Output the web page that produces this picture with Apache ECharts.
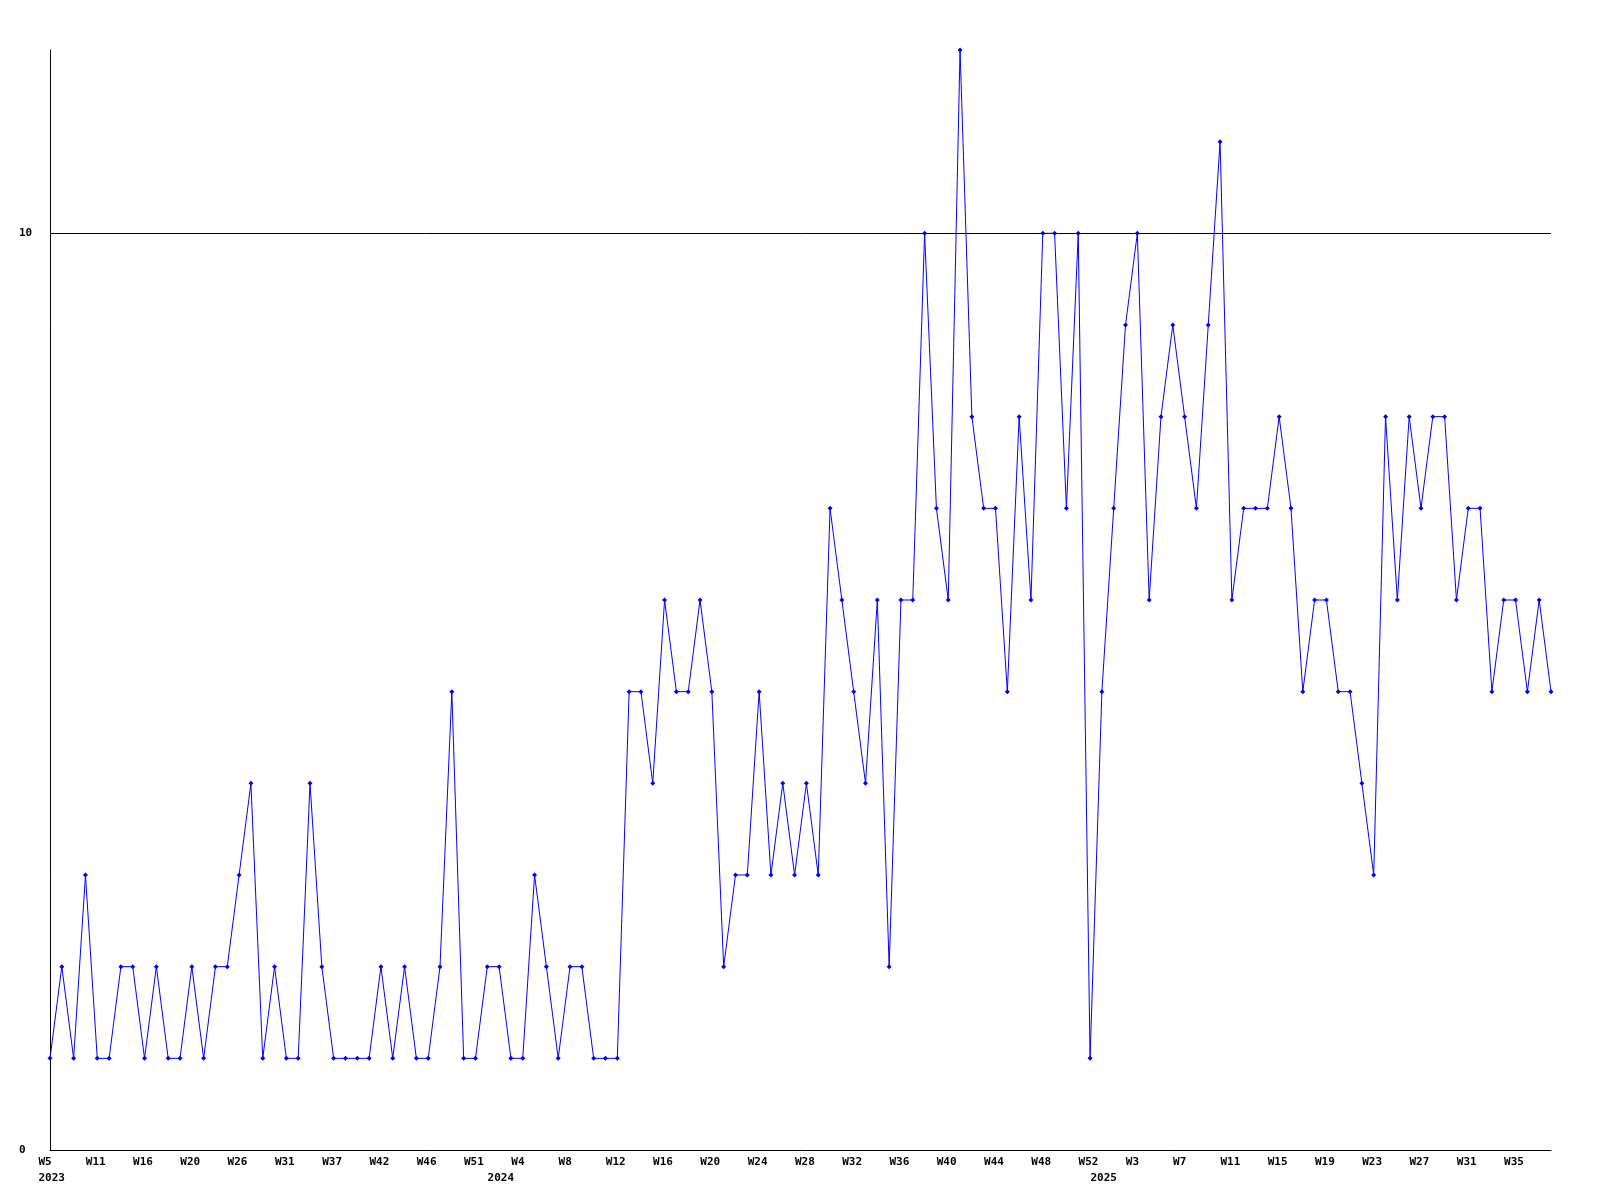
<!DOCTYPE html>
<html>
<head>
<meta charset="utf-8">
<script src="https://cdn.jsdelivr.net/npm/echarts@6/dist/echarts.min.js"></script>
<style>
html,body{margin:0;padding:0;background:#fff;}
#chart{width:1600px;height:1200px;}
</style>
</head>
<body>
<div id="chart"></div>
<script>
// Week categories (every 4th is labelled)
const weeks = [
  'W5','W6','W7','W9','W11','W12','W13','W15','W16','W17','W18','W19','W20','W22','W23','W25',
  'W26','W27','W29','W30','W31','W33','W34','W36','W37','W38','W40','W41','W42','W43','W44','W45',
  'W46','W47','W49','W50','W51','W52',
  'W1','W2','W4','W5','W6','W7','W8','W9','W10','W11','W12','W13','W14','W15','W16','W17','W18','W19',
  'W20','W21','W22','W23','W24','W25','W26','W27','W28','W29','W30','W31','W32','W33','W34','W35',
  'W36','W37','W38','W39','W40','W41','W42','W43','W44','W45','W46','W47','W48','W49','W50','W51','W52',
  'W0','W1','W2','W3','W4','W5','W6','W7','W8','W9','W10','W11','W12','W13','W14','W15','W16','W17',
  'W18','W19','W20','W21','W22','W23','W24','W25','W26','W27','W28','W29','W30','W31','W32','W33',
  'W34','W35','W36','W37','W38'
];
// Values per week
const values = [
  1,2,1,3,1,1,2,2,1,2,1,1,2,1,2,2,
  3,4,1,2,1,1,4,2,1,1,1,1,2,1,2,1,
  1,2,5,1,1,2,2,1,1,3,2,1,2,2,1,1,
  1,5,5,4,6,5,5,6,5,2,3,3,5,3,4,3,
  4,3,7,6,5,4,6,2,6,6,10,7,6,12,8,7,
  7,5,8,6,10,10,7,10,1,5,7,9,10,6,8,9,
  8,7,9,11,6,7,7,7,8,7,5,6,6,5,5,4,
  3,8,6,8,7,8,8,6,7,7,5,6,6,5,6,5
];
// Year labels: index of first week of each year
const yearStarts = [0, 38, 89];
const yearNames = ['2023', '2024', '2025'];
// Y tick labels
const yTicks = [0, 10];

const font = {fontFamily: 'DejaVu Sans Mono', fontWeight: 'bold', fontSize: 11, color: '#000'};

const chart = echarts.init(document.getElementById('chart'), null, {renderer: 'canvas'});
chart.setOption({
  animation: false,
  backgroundColor: '#ffffff',
  grid: [
    {left: 50, right: 49, top: 50, bottom: 50},
    {left: 38.5, right: 60.5, top: 50, bottom: 50}
  ],
  xAxis: [
    {
      gridIndex: 0, type: 'category', data: weeks, boundaryGap: false, position: 'bottom',
      axisLine: {show: true, lineStyle: {color: '#000', width: 1}},
      axisTick: {show: false}, axisLabel: {show: false}, splitLine: {show: false}
    },
    {
      gridIndex: 1, type: 'category', data: weeks, boundaryGap: false, position: 'bottom', offset: 0,
      axisLine: {show: false}, axisTick: {show: false}, splitLine: {show: false},
      axisLabel: Object.assign({
        show: true, align: 'left', margin: 7,
        interval: (idx) => idx % 4 === 0,
        hideOverlap: false
      }, font)
    },
    {
      gridIndex: 1, type: 'category', data: weeks, boundaryGap: false, position: 'bottom', offset: 16,
      axisLine: {show: false}, axisTick: {show: false}, splitLine: {show: false},
      axisLabel: Object.assign({
        show: true, align: 'left', margin: 7,
        interval: (idx) => yearStarts.indexOf(idx) >= 0,
        formatter: (v, idx) => { const i = yearStarts.indexOf(idx); return i >= 0 ? yearNames[i] : ''; },
        hideOverlap: false
      }, font)
    }
  ],
  yAxis: [
    {
      gridIndex: 0, type: 'value', min: 0, max: 12, interval: 10,
      axisLine: {show: true, lineStyle: {color: '#000', width: 1}},
      axisTick: {show: false},
      splitLine: {show: true, showMinLine: false, showMaxLine: false, lineStyle: {color: '#000', width: 1}},
      axisLabel: Object.assign({
        show: true, align: 'left', margin: 31, showMaxLabel: false,
        formatter: (v) => yTicks.indexOf(v) >= 0 ? String(v) : ''
      }, font)
    },
    {
      gridIndex: 1, type: 'value', min: 0, max: 12, show: false
    }
  ],
  series: [{
    type: 'line',
    xAxisIndex: 0, yAxisIndex: 0,
    data: values,
    color: '#0000ff',
    lineStyle: {color: '#0000ff', width: 1},
    itemStyle: {color: '#0000ff'},
    symbol: 'diamond',
    symbolSize: 5,
    showAllSymbol: true,
    showSymbol: true
  }]
});
</script>
</body>
</html>
